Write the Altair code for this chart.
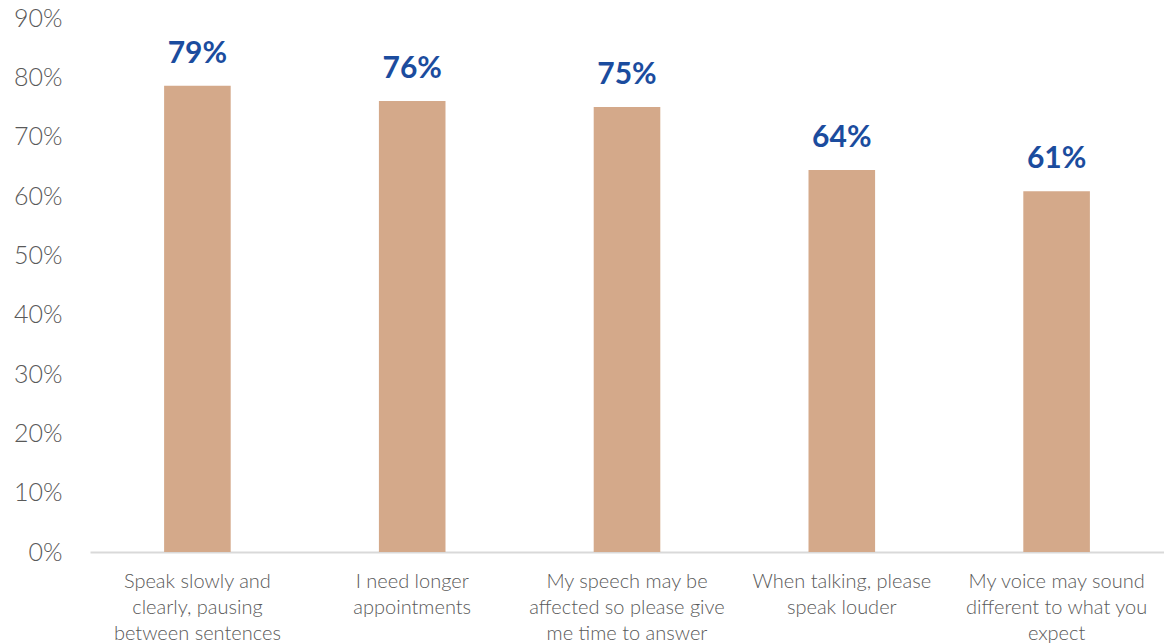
import altair as alt
import pandas as pd

categories = [
    "Speak slowly and\nclearly, pausing\nbetween sentences",
    "I need longer\nappointments",
    "My speech may be\naffected so please give\nme time to answer",
    "When talking, please\nspeak louder",
    "My voice may sound\ndifferent to what you\nexpect",
]
values = [78.6, 76.0, 75.0, 64.4, 60.8]
labels = ["79%", "76%", "75%", "64%", "61%"]
y_ticks = [0, 10, 20, 30, 40, 50, 60, 70, 80, 90]

df = pd.DataFrame({"cat": categories, "value": values, "label": labels})

FONT = "Lato"

x = alt.X(
    "cat:N",
    sort=categories,
    title=None,
    scale=alt.Scale(paddingInner=0.69, paddingOuter=0.345),
    axis=alt.Axis(
        labelAngle=0,
        labelExpr="split(datum.label, '\\n')",
        labelFont=FONT,
        labelFontSize=20,
        labelFontWeight=300,
        labelColor="#595959",
        labelLineHeight=26,
        labelPadding=19,
        labelBaseline="top",
        ticks=False,
        grid=False,
        domainColor="#D9D9D9",
        domainWidth=2,
        labelLimit=300,
    ),
)
y = alt.Y(
    "value:Q",
    title=None,
    scale=alt.Scale(domain=[0, 90], nice=False),
    axis=alt.Axis(
        values=y_ticks,
        labelExpr="datum.value + '%'",
        labelFont=FONT,
        labelFontSize=25,
        labelFontWeight=300,
        labelColor="#595959",
        labelPadding=28,
        ticks=False,
        domain=False,
        grid=False,
    ),
)

bars = alt.Chart(df).mark_bar(color="#D4A98A").encode(x=x, y=y)
text = alt.Chart(df).mark_text(
    font=FONT, fontSize=30, fontWeight="bold", color="#1B4C9E", dy=-17, baseline="bottom"
).encode(x=x, y=y, text="label:N")

chart = (
    alt.layer(bars, text)
    .properties(
        width=1074,
        height=534,
        autosize=alt.AutoSizeParams(type="none"),
        padding={"left": 90, "top": 18, "right": 0, "bottom": 92},
        view=alt.ViewBackground(stroke="transparent", strokeWidth=0),
    )
    .configure_view(stroke="transparent", strokeWidth=0)
    .configure_axisY(domain=False, grid=False)
    .configure_axisX(grid=False)
    .configure(background="white", style={"cell": {"stroke": "transparent", "strokeWidth": 0}})
)

chart.save("out.html", embed_options={"renderer": "svg", "actions": False})
